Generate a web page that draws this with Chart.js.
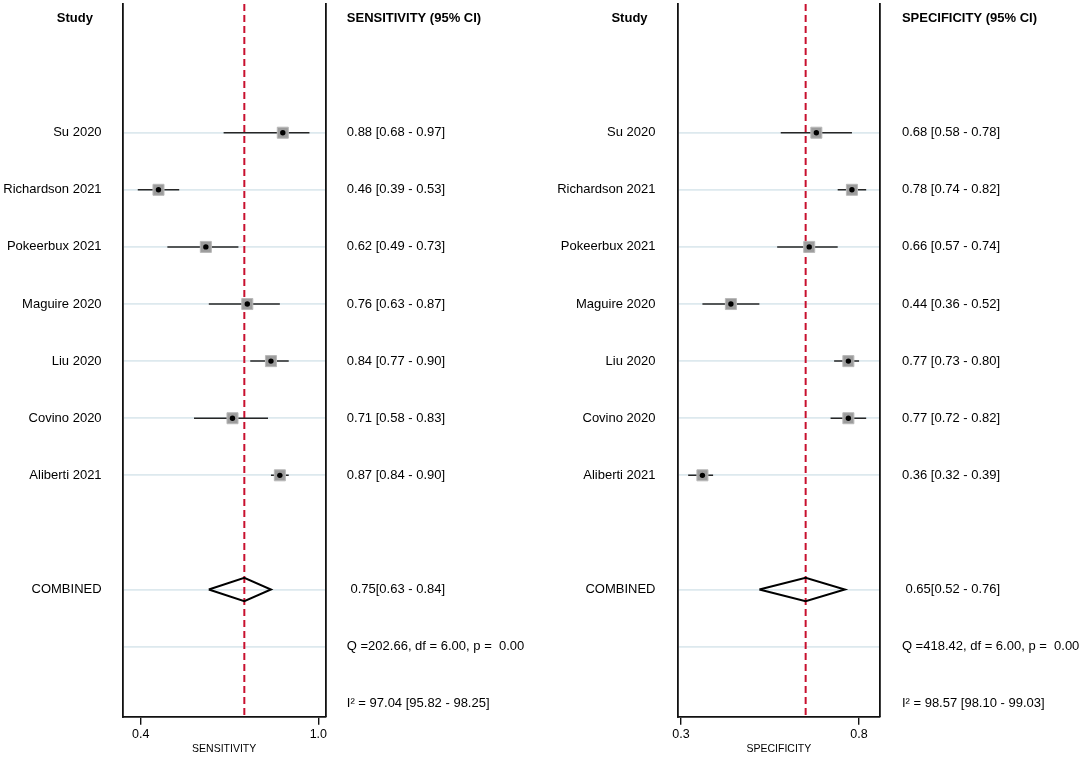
<!DOCTYPE html>
<html>
<head>
<meta charset="utf-8">
<script src="https://cdn.jsdelivr.net/npm/chart.js@4.4.1/dist/chart.umd.min.js"></script>
<style>
html,body{margin:0;padding:0;background:#fff;}
#wrap{position:relative;width:1084px;height:758px;overflow:hidden;background:#fff;}
canvas{position:absolute;top:0;}
</style>
</head>
<body>
<div id="wrap">
<canvas id="sens" width="542" height="758" style="left:0px"></canvas>
<canvas id="spec" width="542" height="758" style="left:542px"></canvas>
</div>
<script>
// ---------------- data ----------------
const studies = ['Su 2020','Richardson 2021','Pokeerbux 2021','Maguire 2020','Liu 2020','Covino 2020','Aliberti 2021'];

const sensitivity = [0.88, 0.46, 0.62, 0.76, 0.84, 0.71, 0.87];
const sensLower   = [0.68, 0.39, 0.49, 0.63, 0.77, 0.58, 0.84];
const sensUpper   = [0.97, 0.53, 0.73, 0.87, 0.90, 0.83, 0.90];

const specificity = [0.68, 0.78, 0.66, 0.44, 0.77, 0.77, 0.36];
const specLower   = [0.58, 0.74, 0.57, 0.36, 0.73, 0.72, 0.32];
const specUpper   = [0.78, 0.82, 0.74, 0.52, 0.80, 0.82, 0.39];

const pooledSens = [0.75, 0.63, 0.84];   // estimate, lower, upper
const pooledSpec = [0.65, 0.52, 0.76];

const sensQ  = [202.66, 6.00, 0.00];     // Q, df, p
const specQ  = [418.42, 6.00, 0.00];
const sensI2 = [97.04, 95.82, 98.25];    // I², lower, upper
const specI2 = [98.57, 98.10, 99.03];

const sensTicks = [0.4, 1.0];
const specTicks = [0.3, 0.8];

// ---------------- layout of rows ----------------
const FONT = '"Liberation Sans", Arial, Helvetica, sans-serif';
Chart.defaults.font.family = FONT;
Chart.defaults.color = '#000';

const headerRow = 0;
const studyRows = studies.map((s, i) => i + 2);
const combinedRow = studies.length + 3;
const qRow = combinedRow + 1;
const i2Row = qRow + 1;
const yMin = -0.254;
const yMax = i2Row + 0.227;
const diamondHalf = 0.205;

const f2 = v => v.toFixed(2);

const headerPlugin = {
  id: 'studyHeader',
  afterDraw(chart, args, opts) {
    const ctx = chart.ctx;
    const y = chart.scales.y.getPixelForValue(headerRow);
    ctx.save();
    ctx.font = 'bold 13px ' + FONT;
    ctx.fillStyle = '#000';
    ctx.textAlign = 'center';
    ctx.textBaseline = 'middle';
    ctx.fillText(opts.text, opts.x, y);
    ctx.restore();
  }
};

function makePanel(id, p) {
  const leftRows = [...studyRows, combinedRow, qRow];
  const leftLabels = {};
  studies.forEach((s, i) => { leftLabels[studyRows[i]] = s; });
  leftLabels[combinedRow] = 'COMBINED';
  leftLabels[qRow] = '';

  const rightRows = [headerRow, ...studyRows, combinedRow, qRow, i2Row];
  const rightLabels = {};
  rightLabels[headerRow] = p.header;
  studies.forEach((s, i) => {
    rightLabels[studyRows[i]] = f2(p.values[i]) + ' [' + f2(p.lower[i]) + ' - ' + f2(p.upper[i]) + ']';
  });
  rightLabels[combinedRow] = ' ' + f2(p.pooled[0]) + '[' + f2(p.pooled[1]) + ' - ' + f2(p.pooled[2]) + ']';
  rightLabels[qRow] = 'Q =' + f2(p.q[0]) + ', df = ' + f2(p.q[1]) + ', p =  ' + f2(p.q[2]);
  rightLabels[i2Row] = 'I\u00B2 = ' + f2(p.i2[0]) + ' [' + f2(p.i2[1]) + ' - ' + f2(p.i2[2]) + ']';

  const ciSets = studies.map((s, i) => ({
    type: 'line',
    data: [{x: p.lower[i], y: studyRows[i]}, {x: p.upper[i], y: studyRows[i]}],
    borderColor: '#262626', borderWidth: 1.5, pointRadius: 0, order: 3
  }));
  const pts = p.values.map((v, i) => ({x: v, y: studyRows[i]}));
  const squares = {
    type: 'scatter', data: pts, pointStyle: 'rect', pointRadius: 7.8,
    backgroundColor: '#9c9c9c', borderColor: '#b9b9b9', borderWidth: 1, order: 1
  };
  const dots = {
    type: 'scatter', data: pts, pointStyle: 'circle', pointRadius: 2.7,
    backgroundColor: '#000', borderWidth: 0, order: 0
  };
  const diamond = {
    type: 'line',
    data: [
      {x: p.pooled[1], y: combinedRow},
      {x: p.pooled[0], y: combinedRow - diamondHalf},
      {x: p.pooled[2], y: combinedRow},
      {x: p.pooled[0], y: combinedRow + diamondHalf},
      {x: p.pooled[1], y: combinedRow}
    ],
    borderColor: '#000', borderWidth: 2, pointRadius: 0, fill: false, order: 2,
    borderJoinStyle: 'miter'
  };
  const refLine = {
    type: 'line',
    data: [{x: p.pooled[0], y: yMin}, {x: p.pooled[0], y: yMax}],
    borderColor: '#c8102e', borderWidth: 2, borderDash: [7, 4], pointRadius: 0, order: 5
  };

  return new Chart(document.getElementById(id), {
    type: 'scatter',
    data: { datasets: [refLine, dots, squares, diamond, ...ciSets] },
    plugins: [headerPlugin],
    options: {
      responsive: false,
      animation: false,
      events: [],
      layout: { autoPadding: false, padding: { top: 4, left: 0, right: 0, bottom: 0 } },
      plugins: {
        legend: { display: false },
        tooltip: { enabled: false },
        studyHeader: { text: 'Study', x: p.studyX }
      },
      scales: {
        x: {
          type: 'linear', position: 'bottom', min: p.xMin, max: p.xMax,
          afterBuildTicks: s => { s.ticks = p.ticks.map(v => ({value: v})); },
          afterFit: s => { s.height = 41.3; s.paddingLeft = 0; s.paddingRight = 0; },
          ticks: { callback: v => Number(v).toFixed(1), font: {family: FONT, size: 12.5},
                   color: '#000', padding: 2.5, autoSkip: false, maxRotation: 0 },
          grid: { display: true, drawOnChartArea: false, drawTicks: true, tickLength: 8,
                  color: '#111', lineWidth: 1.4 },
          border: { display: true, color: '#111', width: 1.8 },
          title: { display: true, text: p.axisTitle, font: {family: FONT, size: 10.5},
                   color: '#000', padding: {top: 0, bottom: 2.4} }
        },
        y: {
          type: 'linear', position: 'left', reverse: true, min: yMin, max: yMax,
          afterBuildTicks: s => { s.ticks = leftRows.map(v => ({value: v})); },
          afterFit: s => { s.width = p.yWidth; s.paddingTop = 0; s.paddingBottom = 0; },
          ticks: { callback: v => (leftLabels[v] !== undefined ? leftLabels[v] : ''),
                   font: {family: FONT, size: 13}, color: '#000', padding: p.labelPad, autoSkip: false },
          grid: { display: true, drawTicks: false, drawOnChartArea: true, color: '#dde9ee', lineWidth: 1.8 },
          border: { display: true, color: '#111', width: 1.8 }
        },
        y2: {
          type: 'linear', position: 'right', reverse: true, min: yMin, max: yMax,
          afterBuildTicks: s => { s.ticks = rightRows.map(v => ({value: v})); },
          afterFit: s => { s.width = p.y2Width; s.paddingTop = 0; s.paddingBottom = 0; },
          ticks: { callback: v => (rightLabels[v] !== undefined ? rightLabels[v] : ''),
                   font: c => ({family: FONT, size: 13,
                                weight: (c.tick && c.tick.value === headerRow) ? 'bold' : 'normal'}),
                   color: '#000', padding: p.valuePad, autoSkip: false },
          grid: { display: false, drawTicks: false },
          border: { display: true, color: '#111', width: 1.8 }
        }
      }
    }
  });
}

makePanel('sens', {
  values: sensitivity, lower: sensLower, upper: sensUpper, pooled: pooledSens,
  q: sensQ, i2: sensI2, ticks: sensTicks,
  header: 'SENSITIVITY (95% CI)', axisTitle: 'SENSITIVITY',
  xMin: 0.3401, xMax: 1.0239, yWidth: 123, y2Width: 216.6,
  labelPad: 21.4, valuePad: 21.4, studyX: 74.9
});

makePanel('spec', {
  values: specificity, lower: specLower, upper: specUpper, pooled: pooledSpec,
  q: specQ, i2: specI2, ticks: specTicks,
  header: 'SPECIFICITY (95% CI)', axisTitle: 'SPECIFICITY',
  xMin: 0.2917, xMax: 0.8580, yWidth: 136.1, y2Width: 204.3,
  labelPad: 22.6, valuePad: 22.2, studyX: 87.5
});
</script>
</body>
</html>
